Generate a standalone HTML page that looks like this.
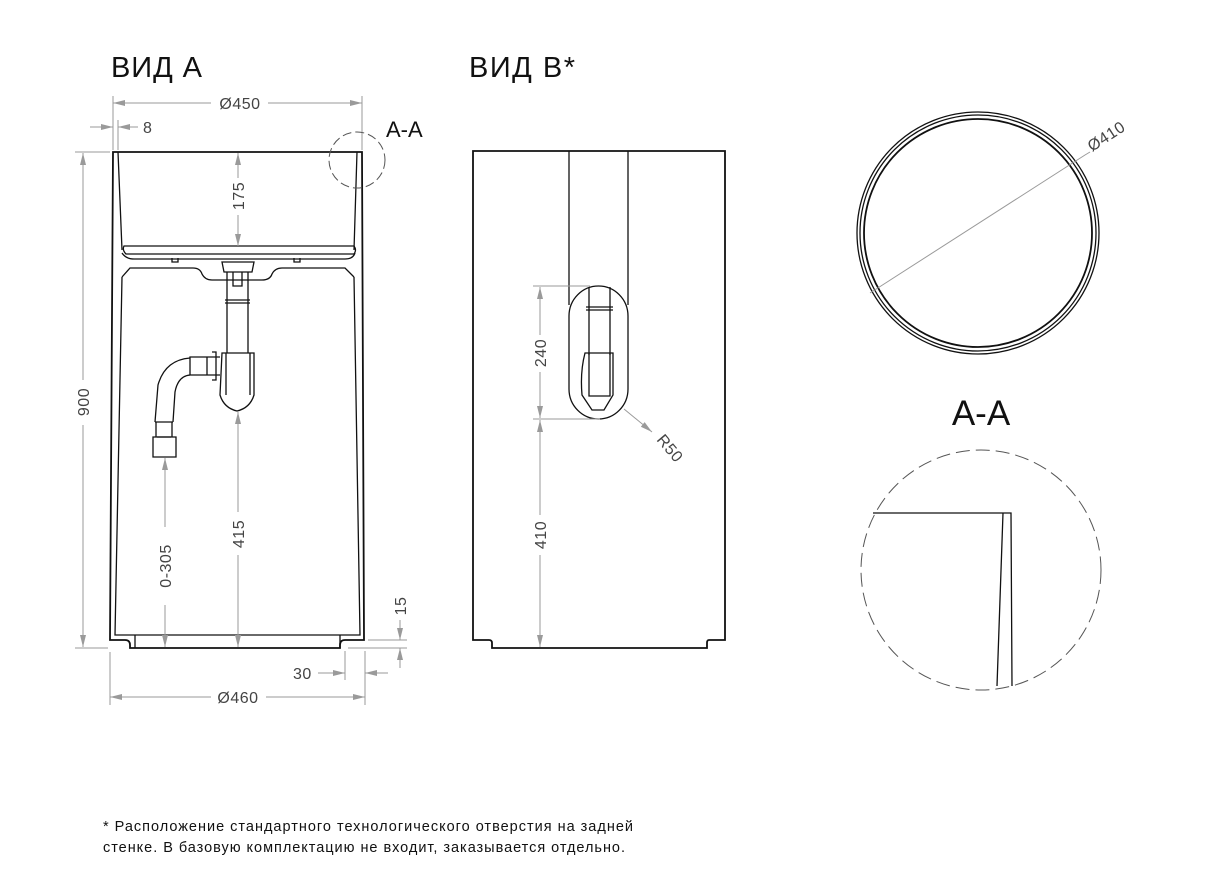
<!DOCTYPE html>
<html><head><meta charset="utf-8"><style>
html,body{margin:0;padding:0;background:#fff;}
svg{display:block}
text{font-family:"Liberation Sans","DejaVu Sans",sans-serif;}
.o{fill:none;stroke:#111;stroke-width:1.8}
.t{fill:none;stroke:#111;stroke-width:1.3}
.d{fill:none;stroke:#9a9a9a;stroke-width:1}
.dt{fill:#444;font-size:16px;letter-spacing:0.5px}
</style></head><body>
<svg width="1228" height="883" viewBox="0 0 1228 883" xmlns="http://www.w3.org/2000/svg">
<defs>
<marker id="ar" markerWidth="12" markerHeight="8" refX="12" refY="4" orient="auto" markerUnits="userSpaceOnUse"><path d="M0,1 L12,4 L0,7 z" fill="#9a9a9a"/></marker>
</defs>
<text x="111" y="77" font-size="29" fill="#111" textLength="91">ВИД А</text>
<text x="469" y="77" font-size="29" fill="#111" textLength="106">ВИД В*</text>

<!-- LEFT VIEW body -->
<path class="o" d="M113,152 L362,152 L364,640 L345,640 Q340,640 340,645 L340,648 L130,648 L130,645 Q130,640 125,640 L110,640 Z"/>
<path class="t" d="M118,152 L122,250 M357,152 L354,250"/>
<path class="t" d="M124,246 L354,246 Q357,250 354,254 L126,254 Q122,250 124,246 Z"/>
<path class="t" d="M122,253 Q126,259 134,259 L345,259 Q353,259 355,253"/>
<path class="t" d="M122,277 L130,268 L193,268 Q200,268 202,274 Q205,280 212,280 L262,280 Q270,280 272,274 Q275,268 282,268 L345,268 L354,277"/>
<path class="t" d="M122,277 L115,635 L360,635 L354,277"/>
<path class="t" d="M135,635 L135,648 M340,635 L340,648"/>
<path class="t" d="M172,258 L172,262 L178,262 L178,258 M294,258 L294,262 L300,262 L300,258"/>
<path class="t" d="M222,262 L254,262 L252,272 L224,272 Z"/>
<path class="t" d="M227,272 L227,353 M248,272 L248,353 M225,300 L250,300 M225,303 L250,303 M233,272 L233,286 L242,286 L242,272"/>
<path class="t" d="M222,353 L254,353 L254,395 Q250,408 237,411 Q224,408 220,395 Z M226,353 L226,395 M250,353 L250,395"/>
<path class="t" d="M220,357 L190,357 L190,375 L220,375 M207,357 L207,375 M212,352 L216,352 L216,380 L212,380"/>
<path class="t" d="M190,358 Q165,360 158,385 L155,422 M190,375 Q178,376 175,392 L173,422 M155,422 L173,422 M157,437 L171,437"/>
<path class="t" d="M153,437 L176,437 L176,457 L153,457 Z M156,422 L156,437 M172,422 L172,437"/>

<!-- left dims -->
<path class="d" d="M113,96 L113,150 M362,96 L362,150"/>
<path class="d" d="M211,103 L113,103" marker-end="url(#ar)"/><path class="d" d="M268,103 L362,103" marker-end="url(#ar)"/>
<text class="dt" x="240" y="109" text-anchor="middle">Ø450</text>
<path class="d" d="M90,127 L113,127" marker-end="url(#ar)"/><path class="d" d="M138,127 L118,127" marker-end="url(#ar)"/>
<path class="d" d="M118,120 L118,150"/>
<text class="dt" x="143" y="133">8</text>
<path class="d" d="M75,152 L110,152 M75,648 L108,648"/>
<path class="d" d="M83,380 L83,153" marker-end="url(#ar)"/><path class="d" d="M83,425 L83,647" marker-end="url(#ar)"/>
<text class="dt" transform="translate(89,402) rotate(-90)" text-anchor="middle">900</text>
<path class="d" d="M238,178 L238,153" marker-end="url(#ar)"/><path class="d" d="M238,215 L238,246" marker-end="url(#ar)"/>
<text class="dt" transform="translate(244,196) rotate(-90)" text-anchor="middle">175</text>
<path class="d" d="M238,512 L238,412" marker-end="url(#ar)"/><path class="d" d="M238,555 L238,647" marker-end="url(#ar)"/>
<text class="dt" transform="translate(244,534) rotate(-90)" text-anchor="middle">415</text>
<path class="d" d="M165,527 L165,458" marker-end="url(#ar)"/><path class="d" d="M165,605 L165,647" marker-end="url(#ar)"/>
<text class="dt" transform="translate(171,566) rotate(-90)" text-anchor="middle">0-305</text>
<path class="d" d="M368,640 L407,640 M348,648 L407,648"/>
<path class="d" d="M400,620 L400,640" marker-end="url(#ar)"/><path class="d" d="M400,668 L400,648" marker-end="url(#ar)"/>
<text class="dt" transform="translate(406,606) rotate(-90)" text-anchor="middle">15</text>
<path class="d" d="M345,651 L345,680 M365,651 L365,705 M110,652 L110,705"/>
<path class="d" d="M318,673 L345,673" marker-end="url(#ar)"/><path class="d" d="M388,673 L365,673" marker-end="url(#ar)"/>
<text class="dt" x="293" y="679">30</text>
<path class="d" d="M211,697 L110,697" marker-end="url(#ar)"/><path class="d" d="M266,697 L365,697" marker-end="url(#ar)"/>
<text class="dt" x="238" y="703" text-anchor="middle">Ø460</text>
<circle cx="357" cy="160" r="28" fill="none" stroke="#555" stroke-width="1" stroke-dasharray="9,4"/>
<text x="386" y="137" font-size="22" fill="#111">A-A</text>

<!-- MIDDLE VIEW -->
<path class="o" d="M473,151 L725,151 L725,640 L709,640 Q707,640 707,643 L707,648 L492,648 L492,643 Q492,640 489,640 L473,640 Z"/>
<path class="t" d="M569,151 L569,305 M628,151 L628,305"/>
<rect class="t" x="569" y="286" width="59" height="133" rx="30" ry="30"/>
<path class="t" d="M589,287 L589,355 M610,287 L610,355 M586,307 L613,307 M586,310 L613,310"/>
<path class="t" d="M585,353 L613,353 L613,395 L604,410 L592,410 L582,395 Q580,372 585,353 Z M589,353 L589,396 L610,396 L610,353"/>
<path class="d" d="M533,286 L590,286 M533,419 L600,419"/>
<path class="d" d="M540,335 L540,287" marker-end="url(#ar)"/><path class="d" d="M540,372 L540,418" marker-end="url(#ar)"/>
<text class="dt" transform="translate(546,353) rotate(-90)" text-anchor="middle">240</text>
<path class="d" d="M540,515 L540,420" marker-end="url(#ar)"/><path class="d" d="M540,555 L540,647" marker-end="url(#ar)"/>
<text class="dt" transform="translate(546,535) rotate(-90)" text-anchor="middle">410</text>
<path class="d" d="M624,409 L652,432" marker-end="url(#ar)"/>
<text class="dt" transform="translate(656,440) rotate(50)">R50</text>

<!-- RIGHT: circle -->
<circle cx="978" cy="233" r="121" class="t"/>
<circle cx="978" cy="233" r="118" class="t"/>
<circle cx="978" cy="233" r="114" class="o"/>
<path class="d" d="M870,293 L1085,155 M1085,155 L1090,152"/>
<text class="dt" transform="translate(1092,152) rotate(-33)" font-size="15">Ø410</text>

<text x="981" y="425" font-size="35" fill="#111" text-anchor="middle">A-A</text>
<circle cx="981" cy="570" r="120" fill="none" stroke="#555" stroke-width="1" stroke-dasharray="14,6"/>
<path class="t" d="M873,513 L1011,513 L1012,686 M1003,513 L997,686"/>

<text x="103" y="831" font-size="14.5" fill="#111" textLength="530" lengthAdjust="spacing">* Расположение стандартного технологического отверстия на задней</text>
<text x="103" y="852" font-size="14.5" fill="#111" textLength="522" lengthAdjust="spacing">стенке. В базовую комплектацию не входит, заказывается отдельно.</text>
</svg>
</body></html>
